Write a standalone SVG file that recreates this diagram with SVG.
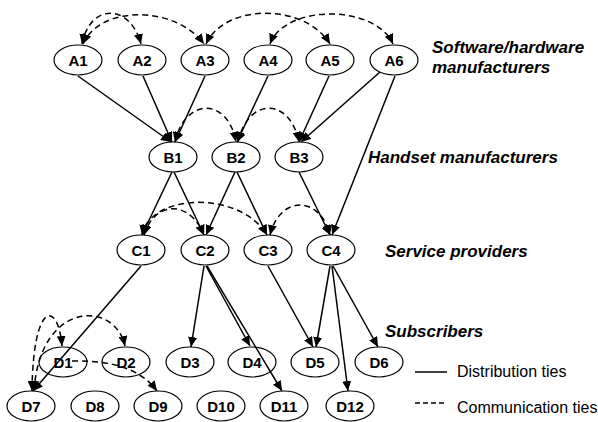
<svg xmlns="http://www.w3.org/2000/svg" width="598" height="422" viewBox="0 0 598 422">
<style>
.n ellipse{fill:#fff;stroke:#000;stroke-width:1.2}
.n text{font-family:"Liberation Sans",Arial,sans-serif;font-weight:bold;font-size:15px;text-anchor:middle;fill:#000}
.cat{font-family:"Liberation Sans",Arial,sans-serif;font-weight:bold;font-style:italic;font-size:17px;fill:#000}
.leg{font-family:"Liberation Sans",Arial,sans-serif;font-size:16px;fill:#000}
.s{fill:none;stroke:#000;stroke-width:1.5;marker-end:url(#ah)}
.d{fill:none;stroke:#000;stroke-width:1.5;stroke-dasharray:6,4;marker-end:url(#ah);marker-start:url(#ah)}
.d1{fill:none;stroke:#000;stroke-width:1.5;stroke-dasharray:6,4;marker-end:url(#ah)}
</style>
<defs>
<marker id="ah" markerUnits="userSpaceOnUse" markerWidth="11" markerHeight="9" refX="10" refY="4.5" orient="auto-start-reverse">
<path d="M0,0 L10,4.5 L0,9 z" fill="#000"/>
</marker>
</defs>
<g id="connectors">
<path class="s" d="M78,76 L171,142"/>
<path class="s" d="M143,76 L172,142"/>
<path class="s" d="M205,76 L175,142"/>
<path class="s" d="M268,76 L237,142"/>
<path class="s" d="M329,76 L299,142"/>
<path class="s" d="M380,72 L301,142"/>
<path class="s" d="M395,76 L332,235"/>
<path class="s" d="M172,172 L142,235"/>
<path class="s" d="M174,172 L204,235"/>
<path class="s" d="M235,172 L206,235"/>
<path class="s" d="M237,172 L267,235"/>
<path class="s" d="M299,172 L330,235"/>
<path class="s" d="M141,266 L33,391"/>
<path class="s" d="M204,266 L191,347"/>
<path class="s" d="M206,266 L250,346"/>
<path class="s" d="M207,266 L282,391"/>
<path class="s" d="M268,266 L313,347"/>
<path class="s" d="M330,266 L316,347"/>
<path class="s" d="M332,266 L348,391"/>
<path class="s" d="M333,266 L378,347"/>
<path class="d" d="M82,44 C90,3 130,3 141,44"/>
<path class="d" d="M83,44 C100,5 175,5 204,44"/>
<path class="d" d="M206,44 C225,3 305,3 330,44"/>
<path class="d" d="M270,44 C285,4 375,4 393,44"/>
<path class="d" d="M175,142 C185,97 228,97 236,142"/>
<path class="d" d="M238,142 C248,97 290,97 299,142"/>
<path class="d" d="M142,235 C150,193 240,190 267,235"/>
<path class="d" d="M144,235 C155,200 190,200 204,235"/>
<path class="d" d="M270,235 C280,195 320,195 330,235"/>
<path class="d" d="M32,391 C33,300 58,300 62,346"/>
<path class="d" d="M34,391 C40,300 115,300 125,346"/>
<path class="d1" d="M72,361 C110,360 140,368 157,391"/>
</g>
<g id="A1" class="n"><ellipse cx="78" cy="60" rx="24" ry="15"/><text x="78" y="66">A1</text></g>
<g id="A2" class="n"><ellipse cx="142" cy="60" rx="24" ry="15"/><text x="142" y="66">A2</text></g>
<g id="A3" class="n"><ellipse cx="205" cy="60" rx="24" ry="15"/><text x="205" y="66">A3</text></g>
<g id="A4" class="n"><ellipse cx="268" cy="60" rx="24" ry="15"/><text x="268" y="66">A4</text></g>
<g id="A5" class="n"><ellipse cx="330" cy="60" rx="24" ry="15"/><text x="330" y="66">A5</text></g>
<g id="A6" class="n"><ellipse cx="394" cy="60" rx="24" ry="15"/><text x="394" y="66">A6</text></g>
<g id="B1" class="n"><ellipse cx="173" cy="157" rx="24" ry="15"/><text x="173" y="163">B1</text></g>
<g id="B2" class="n"><ellipse cx="236" cy="157" rx="24" ry="15"/><text x="236" y="163">B2</text></g>
<g id="B3" class="n"><ellipse cx="299" cy="157" rx="24" ry="15"/><text x="299" y="163">B3</text></g>
<g id="C1" class="n"><ellipse cx="141" cy="250" rx="24" ry="15"/><text x="141" y="256">C1</text></g>
<g id="C2" class="n"><ellipse cx="205" cy="250" rx="24" ry="15"/><text x="205" y="256">C2</text></g>
<g id="C3" class="n"><ellipse cx="268" cy="250" rx="24" ry="15"/><text x="268" y="256">C3</text></g>
<g id="C4" class="n"><ellipse cx="331" cy="250" rx="24" ry="15"/><text x="331" y="256">C4</text></g>
<g id="D1" class="n"><ellipse cx="63" cy="362" rx="24" ry="15" fill-opacity="0"/><text x="63" y="368">D1</text></g>
<g id="D2" class="n"><ellipse cx="126" cy="362" rx="24" ry="15" fill-opacity="0"/><text x="126" y="368">D2</text></g>
<g id="D3" class="n"><ellipse cx="190" cy="362" rx="24" ry="15"/><text x="190" y="368">D3</text></g>
<g id="D4" class="n"><ellipse cx="252" cy="362" rx="24" ry="15" fill-opacity="0"/><text x="252" y="368">D4</text></g>
<g id="D5" class="n"><ellipse cx="315" cy="362" rx="24" ry="15"/><text x="315" y="368">D5</text></g>
<g id="D6" class="n"><ellipse cx="379" cy="362" rx="24" ry="15"/><text x="379" y="368">D6</text></g>
<g id="D7" class="n"><ellipse cx="31" cy="406" rx="24" ry="15"/><text x="31" y="412">D7</text></g>
<g id="D8" class="n"><ellipse cx="95" cy="406" rx="24" ry="15"/><text x="95" y="412">D8</text></g>
<g id="D9" class="n"><ellipse cx="158" cy="406" rx="24" ry="15"/><text x="158" y="412">D9</text></g>
<g id="D10" class="n"><ellipse cx="221" cy="406" rx="24" ry="15"/><text x="221" y="412">D10</text></g>
<g id="D11" class="n"><ellipse cx="284" cy="406" rx="24" ry="15"/><text x="284" y="412">D11</text></g>
<g id="D12" class="n"><ellipse cx="350" cy="406" rx="24" ry="15"/><text x="350" y="412">D12</text></g>
<g id="labels">
<text class="cat" x="432" y="53">Software/hardware</text>
<text class="cat" x="432" y="73">manufacturers</text>
<text class="cat" x="368" y="163">Handset manufacturers</text>
<text class="cat" x="385" y="257">Service providers</text>
<text class="cat" x="385" y="337">Subscribers</text>
</g>
<g id="legend">
<line x1="415" y1="372" x2="447" y2="372" stroke="#000" stroke-width="1.5"/>
<text class="leg" x="457" y="377">Distribution ties</text>
<line x1="415" y1="403" x2="447" y2="403" stroke="#000" stroke-width="1.5" stroke-dasharray="5,3"/>
<text class="leg" x="457" y="413">Communication ties</text>
</g>
</svg>
